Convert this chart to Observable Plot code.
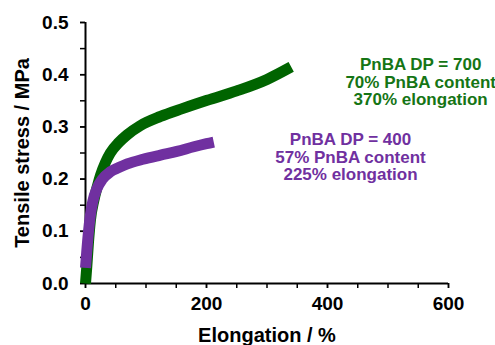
<!DOCTYPE html>
<html>
<head>
<meta charset="utf-8">
<script src="https://cdn.jsdelivr.net/npm/d3@7"></script>
<script src="https://cdn.jsdelivr.net/npm/@observablehq/plot@0.6"></script>
<style>
  html, body { margin: 0; padding: 0; background: #fff; }
  #chart { width: 495px; height: 345px; }
</style>
</head>
<body>
<div id="chart"></div>
<script>
// Series: PnBA DP = 700
const elong700 = [0, 2, 5, 8, 14, 20, 25, 33, 41, 55, 69, 90, 124, 160, 201, 250, 300, 340];
const stress700 = [0.0, 0.03, 0.08, 0.12, 0.16, 0.188, 0.208, 0.232, 0.25, 0.27, 0.285, 0.302, 0.32, 0.335, 0.351, 0.369, 0.391, 0.415];
// Series: PnBA DP = 400
const elong400 = [0, 2, 5, 8, 12, 19, 28, 41, 55, 69, 95, 124, 151, 179, 200, 212];
const stress400 = [0.03, 0.06, 0.1, 0.13, 0.157, 0.182, 0.2, 0.214, 0.222, 0.229, 0.238, 0.246, 0.253, 0.262, 0.268, 0.271];

// Axis ticks
const xTicks = [0, 200, 400, 600];
const xMinorTicks = [0, 50, 100, 150, 200, 250, 300, 350, 400, 450, 500, 550, 600];
const yTicks = [0, 0.1, 0.2, 0.3, 0.4, 0.5];
const yMinorTicks = [0, 0.05, 0.1, 0.15, 0.2, 0.25, 0.3, 0.35, 0.4, 0.45, 0.5];

// Annotations
const labels700 = "PnBA DP = 700\n70% PnBA content\n370% elongation";
const labels400 = "PnBA DP = 400\n57% PnBA content\n225% elongation";
const annX = [554, 438];
const annY = [0.386, 0.242];

const xLabel = "Elongation / %";
const yLabel = "Tensile stress / MPa";

const green = "#006400";
const greenText = "#157515";
const purple = "#7030a0";

const d700 = elong700.map((x, i) => ({x, y: stress700[i]}));
const d400 = elong400.map((x, i) => ({x, y: stress400[i]}));

const font = "Arial, 'Liberation Sans', sans-serif";

const chart = Plot.plot({
  width: 495,
  height: 345,
  marginLeft: 85,
  marginRight: 47,
  marginTop: 22,
  marginBottom: 62,
  x: {domain: [0, 600]},
  y: {domain: [0, 0.5]},
  style: {fontFamily: font, fontWeight: "bold", background: "white", overflow: "visible"},
  marks: [
    Plot.axisY(yMinorTicks, {tickSize: 5, tickFormat: () => "", strokeWidth: 1.5, label: null}),
    Plot.axisY(yTicks, {tickSize: 5, tickPadding: 12, tickFormat: d3.format(".1f"), fontSize: 19, fontWeight: "bold", fill: "black", strokeWidth: 1.5, label: null}),
    Plot.axisX(xMinorTicks, {tickSize: 5, tickFormat: () => "", strokeWidth: 1.5, label: null}),
    Plot.axisX(xTicks, {tickSize: 5, tickPadding: 8, fontSize: 19, fontWeight: "bold", fill: "black", strokeWidth: 1.5, label: null}),
    Plot.ruleX([0], {y1: 0, y2: 0.5, strokeWidth: 2}),
    Plot.ruleY([0], {x1: 0, x2: 600, strokeWidth: 2}),
    Plot.line(d700, {x: "x", y: "y", stroke: green, strokeWidth: 11, curve: "monotone-x", strokeLinecap: "butt"}),
    Plot.line(d400, {x: "x", y: "y", stroke: purple, strokeWidth: 11, curve: "monotone-x", strokeLinecap: "butt"}),
    Plot.text([labels700], {x: annX[0], y: annY[0], fill: greenText, fontSize: 17, fontWeight: "bold", lineHeight: 1.02, lineAnchor: "middle"}),
    Plot.text([labels400], {x: annX[1], y: annY[1], fill: purple, fontSize: 17, fontWeight: "bold", lineHeight: 1.02, lineAnchor: "middle"}),
    Plot.text([yLabel], {frameAnchor: "left", dx: -63, rotate: -90, textAnchor: "middle", fontSize: 20, fontWeight: "bold", fill: "black"}),
    Plot.text([xLabel], {frameAnchor: "bottom", dy: 52, lineAnchor: "middle", fontSize: 20, fontWeight: "bold", fill: "black"})
  ]
});
document.getElementById("chart").appendChild(chart);
</script>
</body>
</html>
